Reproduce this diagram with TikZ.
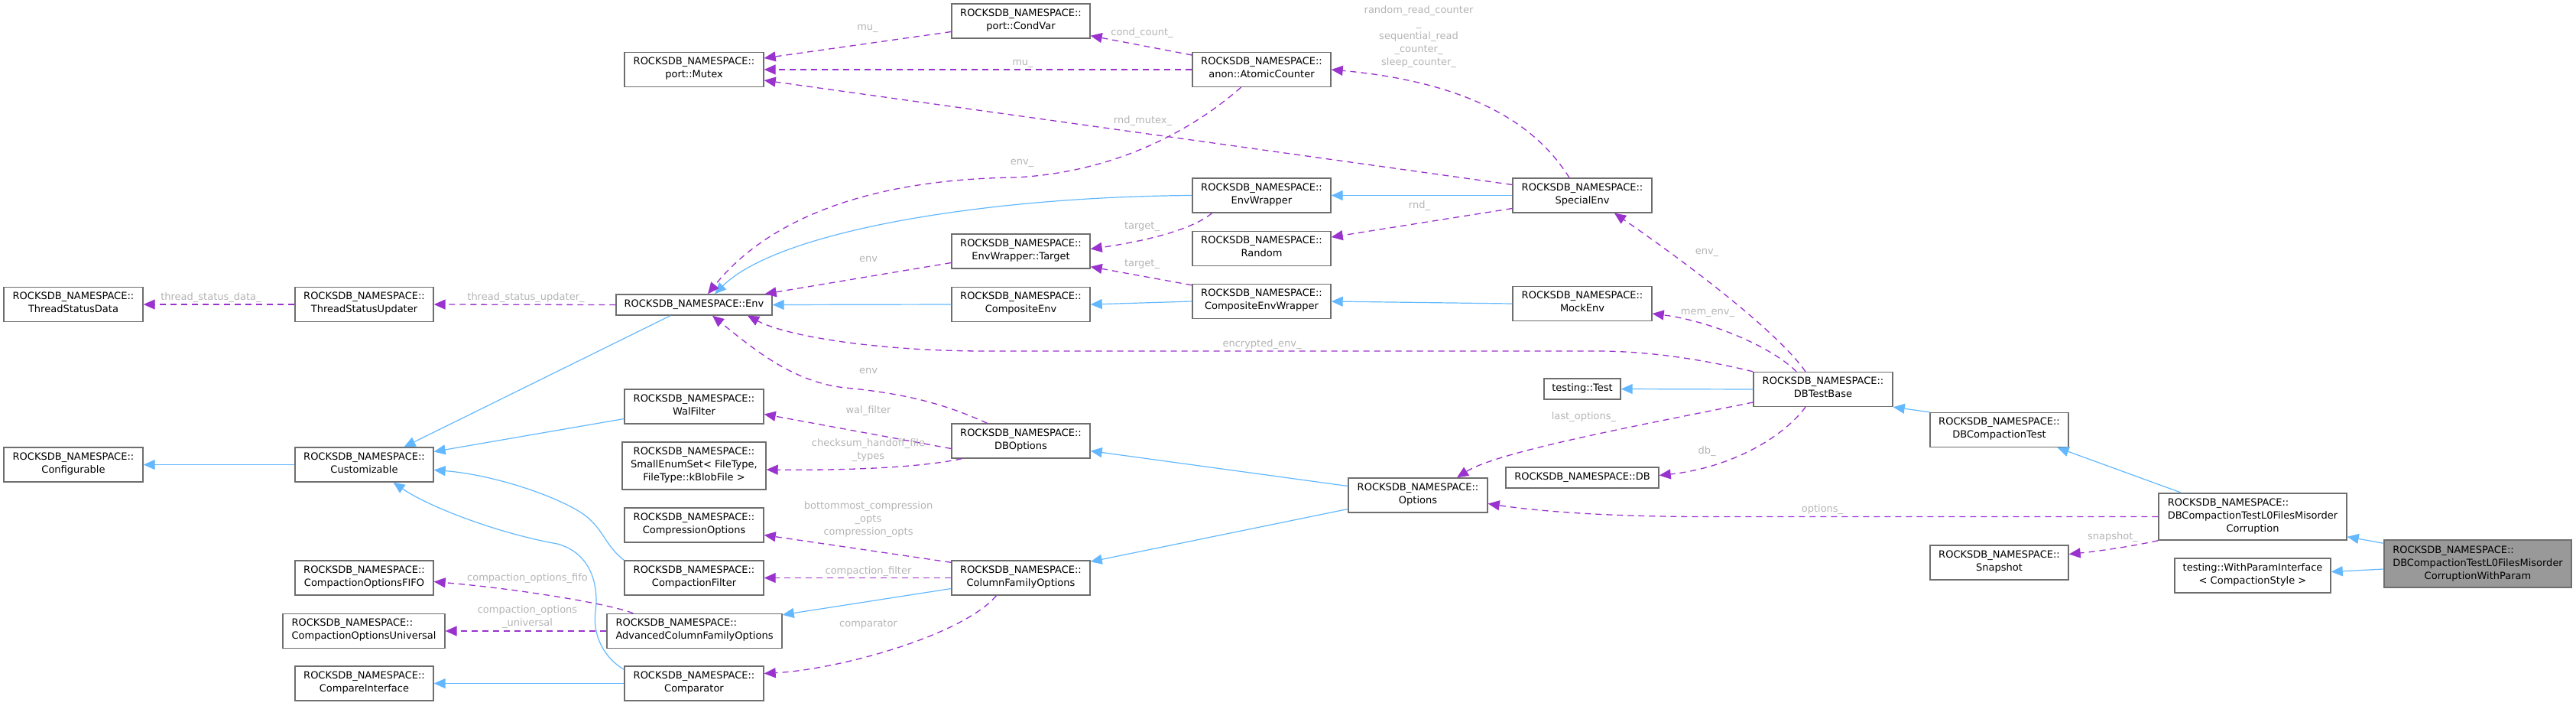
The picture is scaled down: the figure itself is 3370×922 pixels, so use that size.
\documentclass[tikz,border=0pt]{standalone}
\usepackage{fontspec}
\setmainfont{DejaVu Sans}
\usetikzlibrary{arrows.meta}
\definecolor{edgeblue}{HTML}{63B8FF}
\definecolor{edgepurple}{HTML}{9A32CD}
\definecolor{lblgray}{HTML}{B4B4B4}
\definecolor{boxgray}{HTML}{6E6E6E}
\definecolor{hlfill}{HTML}{999999}
\newcommand\lrow[1]{\multicolumn{1}{@{}l@{}}{#1}}
\begin{document}
\begin{tikzpicture}[x=1pt,y=-1pt,
  every node/.style={font=\fontsize{13}{17}\selectfont},
  cls/.style={draw=boxgray, line width=1.4pt, fill=white, inner sep=0pt, align=center,
    minimum width=181pt, minimum height=45pt,
    execute at begin node=\strut, execute at end node=\strut},
  clsT/.style={draw=boxgray, line width=1.4pt, fill=white, inner sep=0pt,
    minimum width=181pt, minimum height=45pt},
  inherit/.style={draw=edgeblue, line width=1.2pt, -{Triangle[length=15pt,width=13pt]}},
  member/.style={draw=edgepurple, line width=1.3pt, dash pattern=on 8pt off 6pt, -{Triangle[length=15pt,width=13pt]}},
  lbl/.style={text=lblgray, inner sep=0pt, align=center,
    execute at begin node=\strut, execute at end node=\strut}]
\useasboundingbox (0,0) rectangle (3370,922);

% ---------------- classes ----------------
\node[cls, minimum width=182pt] (tsd) at (96,398) {ROCKSDB\_NAMESPACE::\\ThreadStatusData};
\node[cls] (tsu) at (476.5,398) {ROCKSDB\_NAMESPACE::\\ThreadStatusUpdater};
\node[cls, minimum width=182pt] (conf) at (96,607.5) {ROCKSDB\_NAMESPACE::\\Configurable};
\node[cls] (cust) at (476.5,607.5) {ROCKSDB\_NAMESPACE::\\Customizable};
\node[cls] (fifo) at (476.5,755.5) {ROCKSDB\_NAMESPACE::\\CompactionOptionsFIFO};
\node[cls, minimum width=212pt, align=left] (univ) at (476,825) {ROCKSDB\_NAMESPACE::\\CompactionOptionsUniversal};
\node[cls] (cmpi) at (476.5,893.5) {ROCKSDB\_NAMESPACE::\\CompareInterface};
\node[cls, minimum width=182pt] (mutex) at (908,91) {ROCKSDB\_NAMESPACE::\\port::Mutex};
\node[cls, minimum width=204pt, minimum height=27pt] (env) at (908,398.5) {ROCKSDB\_NAMESPACE::Env};
\node[cls, minimum width=182pt] (walf) at (908,531.5) {ROCKSDB\_NAMESPACE::\\WalFilter};
\node[cls, minimum width=188pt, minimum height=62pt] (sset) at (908,609) {ROCKSDB\_NAMESPACE::\\SmallEnumSet< FileType,\\FileType::kBlobFile >};
\node[cls, minimum width=182pt] (comp) at (908,686.5) {ROCKSDB\_NAMESPACE::\\CompressionOptions};
\node[cls, minimum width=182pt] (cfilt) at (908,755.5) {ROCKSDB\_NAMESPACE::\\CompactionFilter};
\node[cls, minimum width=229pt, align=left] (acfo) at (908.5,825) {ROCKSDB\_NAMESPACE::\\AdvancedColumnFamilyOptions};
\node[cls, minimum width=182pt] (cmp) at (908,893.5) {ROCKSDB\_NAMESPACE::\\Comparator};
\node[cls] (condvar) at (1335.5,27.5) {ROCKSDB\_NAMESPACE::\\port::CondVar};
\node[cls] (target) at (1335.5,328.5) {ROCKSDB\_NAMESPACE::\\EnvWrapper::Target};
\node[cls] (cenv) at (1335.5,398) {ROCKSDB\_NAMESPACE::\\CompositeEnv};
\node[cls] (dbopt) at (1335.5,576.5) {ROCKSDB\_NAMESPACE::\\DBOptions};
\node[cls] (cfo) at (1335.5,755.5) {ROCKSDB\_NAMESPACE::\\ColumnFamilyOptions};
\node[cls] (atomic) at (1650.5,91) {ROCKSDB\_NAMESPACE::\\anon::AtomicCounter};
\node[cls] (envw) at (1650.5,255.5) {ROCKSDB\_NAMESPACE::\\EnvWrapper};
\node[cls] (random) at (1650.5,325) {ROCKSDB\_NAMESPACE::\\Random};
\node[cls] (cew) at (1650.5,394) {ROCKSDB\_NAMESPACE::\\CompositeEnvWrapper};
\node[cls, minimum width=182pt] (opts) at (1855,647.5) {ROCKSDB\_NAMESPACE::\\Options};
\node[cls, minimum width=182pt] (special) at (2070,255.5) {ROCKSDB\_NAMESPACE::\\SpecialEnv};
\node[cls, minimum width=182pt] (mock) at (2070,397) {ROCKSDB\_NAMESPACE::\\MockEnv};
\node[cls, minimum width=100pt, minimum height=27pt] (ttest) at (2070,508.5) {testing::Test};
\node[cls, minimum width=200pt, minimum height=27pt] (db) at (2070,624.5) {ROCKSDB\_NAMESPACE::DB};
\node[cls, minimum width=182pt] (dbtb) at (2385,509) {ROCKSDB\_NAMESPACE::\\DBTestBase};
\node[cls] (dbct) at (2615.5,562) {ROCKSDB\_NAMESPACE::\\DBCompactionTest};
\node[cls] (snap) at (2615.5,735.5) {ROCKSDB\_NAMESPACE::\\Snapshot};
\node[clsT, minimum width=246pt, minimum height=61pt] (l0) at (2947,675.5)
  {\begin{tabular}{@{}c@{}}\lrow{ROCKSDB\_NAMESPACE::}\\DBCompactionTestL0FilesMisorder\\Corruption\end{tabular}};
\node[cls, minimum width=204pt] (wpi) at (2947,752.5) {testing::WithParamInterface\\< CompactionStyle >};
\node[clsT, fill=hlfill, minimum width=245pt, minimum height=62pt] (main) at (3241.5,737)
  {\begin{tabular}{@{}c@{}}\lrow{ROCKSDB\_NAMESPACE::}\\DBCompactionTestL0FilesMisorder\\CorruptionWithParam\end{tabular}};

% ---------------- inheritance ----------------
\draw[inherit] (cust.west) -- (conf.east);
\draw[inherit] ([xshift=-31pt]env.south) -- ([xshift=52pt]cust.north);
\draw[inherit] ([yshift=-16pt]walf.west) -- ([yshift=17pt]cust.east);
\draw[inherit] (cfilt.north west) .. controls (790,712) and (790,690) .. (760,670)
  .. controls (720,645) and (640,620) .. ([yshift=-7pt]cust.east);
\draw[inherit] ([yshift=-5pt]cmp.north west) .. controls (790,860) and (775,830) .. (779,800)
  .. controls (784,760) and (770,722) .. (729,711)
  .. controls (650,697) and (560,662) .. ([xshift=38pt]cust.south);
\draw[inherit] (cmp.west) -- (cmpi.east);
\draw[inherit] (envw.west) .. controls (1300,257) and (1020,300) .. ([xshift=27pt]env.north);
\draw[inherit] (cenv.west) -- (env.east);
\draw[inherit] (cew.west) -- (cenv.east);
\draw[inherit] (special.west) -- (envw.east);
\draw[inherit] (mock.west) -- (cew.east);
\draw[inherit] (dbtb.west) -- (ttest.east);
\draw[inherit] (dbct.north west) -- (dbtb.south east);
\draw[inherit] ([xshift=-93pt]l0.north) -- ([xshift=76pt]dbct.south);
\draw[inherit] ([yshift=-5pt]main.north west) -- ([yshift=5pt]l0.south east);
\draw[inherit] ([yshift=-7pt]main.west) -- ([yshift=5pt]wpi.east);
\draw[inherit] ([yshift=12pt]opts.west) -- ([yshift=-13pt]dbopt.east);
\draw[inherit] ([yshift=-18pt]opts.west) -- ([yshift=-2pt]cfo.north east);
\draw[inherit] ([yshift=-14pt]cfo.west) -- ([yshift=-2pt]acfo.north east);

% ---------------- members ----------------
\draw[member] (tsu.west) -- (tsd.east);
\draw[member] (env.west) -- (tsu.east);
\draw[member] ([xshift=35pt]acfo.north west) .. controls (800,790) and (680,770) .. ([yshift=-5pt]fifo.east);
\draw[member] (acfo.west) -- (univ.east);
\draw[member] ([yshift=-14pt]condvar.west) -- ([yshift=15pt]mutex.east);
\draw[member] (atomic.west) -- (mutex.east);
\draw[member] ([yshift=14pt]special.west) -- ([yshift=-14pt]mutex.east);
\draw[member] ([yshift=19pt]atomic.west) -- ([yshift=4pt]condvar.south east);
\draw[member] ([xshift=-17pt]special.north) .. controls (2020,180) and (1950,110) .. (atomic.east);
\draw[member] ([xshift=-27pt]atomic.south) .. controls (1560,170) and (1460,225) .. (1329,232)
  .. controls (1150,234) and (1010,280) .. ([xshift=18pt]env.north);
\draw[member] ([xshift=-65pt]envw.south) .. controls (1560,300) and (1500,315) .. ([yshift=3pt]target.east);
\draw[member] ([yshift=-2pt]cew.north west) -- ([yshift=3pt]target.south east);
\draw[member] ([yshift=-15pt]target.west) -- ([xshift=-10pt]env.north east);
\draw[member] ([yshift=-17pt]special.west) -- ([yshift=15pt]random.east);
\draw[member] (dbtb.north west) .. controls (2220,468) and (2150,459) .. (2090,459) -- (1290,459)
  .. controls (1150,459) and (1030,440) .. ([xshift=70pt]env.south);
\draw[member] ([xshift=-23pt]dbtb.north) .. controls (2330,440) and (2230,360) .. ([xshift=42pt]special.south);
\draw[member] ([xshift=-35pt]dbtb.north) .. controls (2320,455) and (2240,420) .. ([yshift=-13pt]mock.east);
\draw[member] ([yshift=-17pt]dbtb.west) .. controls (2150,555) and (1960,590) .. ([xshift=51pt]opts.north);
\draw[member] ([xshift=-23pt]dbtb.south) .. controls (2330,575) and (2260,612) .. ([yshift=3pt]db.east);
\draw[member] (l0.west) -- (2230,675.5) .. controls (2100,675.5) and (2010,668) .. ([yshift=-11pt]opts.east);
\draw[member] (l0.south west) .. controls (2790,714) and (2750,720) .. ([yshift=11pt]snap.east);
\draw[member] ([xshift=-44pt]dbopt.north) .. controls (1240,530) and (1190,515) .. (1106,507)
  .. controls (1040,500) and (990,460) .. ([xshift=24pt]env.south);
\draw[member] ([yshift=-10pt]dbopt.west) -- ([yshift=-10pt]walf.east);
\draw[member] ([xshift=14pt]dbopt.south west) .. controls (1200,612) and (1100,615) .. ([yshift=-5pt]sset.east);
\draw[member] ([yshift=-3pt]cfo.north west) -- ([yshift=-13pt]comp.east);
\draw[member] (cfo.west) -- (cfilt.east);
\draw[member] ([xshift=-32pt]cfo.south) .. controls (1260,830) and (1100,875) .. ([yshift=13pt]cmp.east);

% ---------------- labels ----------------
\node[lbl] (l1) at (276,389) {thread\_status\_data\_};
\node[lbl] (l2) at (688,389) {thread\_status\_updater\_};
\node[lbl] (l3) at (690,756) {compaction\_options\_fifo};
\node[lbl] (l4) at (690,807.5) {compaction\_options\\\_universal};
\node[lbl] (l5) at (1135,36) {mu\_};
\node[lbl] (l6) at (1338,82) {mu\_};
\node[lbl] (l7) at (1494,43) {cond\_count\_};
\node[lbl] (l8) at (1495,158) {rnd\_mutex\_};
\node[lbl] (l9) at (1337,212) {env\_};
\node[lbl] (l10) at (1494,296) {target\_};
\node[lbl] (l11) at (1494,345) {target\_};
\node[lbl] (l12) at (1136,339) {env};
\node[lbl] (l13) at (1857,269) {rnd\_};
\node[lbl] (l14) at (1651,450) {encrypted\_env\_};
\node[lbl] (l15) at (1136,485) {env};
\node[lbl] (l16) at (1136,537) {wal\_filter};
\node[lbl] (l17) at (1136,590) {checksum\_handoff\_file\\\_types};
\node[lbl] (l18) at (1136,680) {bottommost\_compression\\\_opts\\compression\_opts};
\node[lbl] (l19) at (1136,747) {compaction\_filter};
\node[lbl] (l20) at (1136,816) {comparator};
\node[lbl] (l21) at (1856,49) {random\_read\_counter\\\_\\sequential\_read\hspace*{42pt}\\\_counter\_\\sleep\_counter\_};
\node[lbl] (l22) at (2233,329) {env\_};
\node[lbl] (l23) at (2234,408) {mem\_env\_};
\node[lbl] (l24) at (2072,545) {last\_options\_};
\node[lbl] (l25) at (2233,590) {db\_};
\node[lbl] (l26) at (2384,666) {options\_};
\node[lbl] (l27) at (2764,702) {snapshot\_};
\end{tikzpicture}
\end{document}
